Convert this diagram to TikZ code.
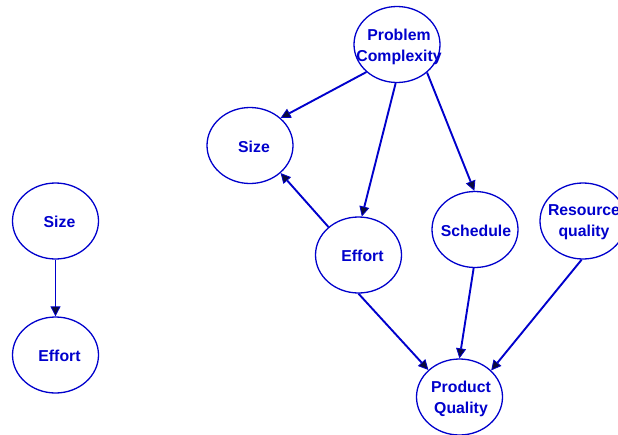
\documentclass[tikz,border=0pt]{standalone}
\usepackage{fontspec}
\setmainfont{Liberation Sans}
\usetikzlibrary{shapes.geometric,arrows.meta}
\definecolor{nblue}{RGB}{0,0,204}
\definecolor{tipc}{RGB}{10,10,60}
\tikzset{
 ell/.style={draw=nblue, line width=1.3pt, ellipse, minimum width=86pt, minimum height=76pt, inner sep=0pt},
 lbl/.style={text=nblue, font=\bfseries\fontsize{15.8}{20.5}\selectfont, align=center, inner sep=0pt},
 edge/.style={draw=nblue, line width=1.9pt, -{Triangle[length=10pt,width=10pt,fill=tipc,line width=0.8pt]}},
 thinedge/.style={edge, line width=1.4pt}
}
\begin{document}
\begin{tikzpicture}[x=1pt,y=-1pt]
\useasboundingbox (0,0) rectangle (618,434);
\node[ell, label={[lbl,xshift=4pt,yshift=-1pt]center:Size}] (lsize) at (55.5,221) {};
\node[ell, label={[lbl,xshift=4pt,yshift=-1pt]center:Effort}] (leffort) at (55.5,355) {};
\node[ell, label={[lbl,xshift=4pt,yshift=-1pt]center:Size}] (size) at (250,145.5) {};
\node[ell, label={[lbl,xshift=4pt,yshift=-1pt]center:Effort}] (effort) at (358.5,255) {};
\node[ell, label={[lbl,xshift=2pt,yshift=-2.5pt]center:Problem\\Complexity}] (pc) at (397,44.5) {};
\node[ell, label={[lbl,xshift=1pt,yshift=-1pt]center:Schedule}] (sched) at (475,229.5) {};
\node[ell, label={[lbl,xshift=1pt,yshift=-1pt]center:Resource\\quality}] (res) at (583,221) {};
\node[ell, label={[lbl,xshift=1.5pt,yshift=-2pt]center:Product\\Quality}] (pq) at (459.5,397) {};
\draw[thinedge] (lsize.south) -- (leffort.north);
\draw[edge] (pc.222.5) -- (size.42.5);
\draw[edge] (pc.268.5) -- (effort.85.6);
\draw[edge] (pc.317.5) -- (sched.91.5);
\draw[edge] (effort.137) -- (size.318.4);
\draw[edge] (effort.270) -- (pq.139.4);
\draw[edge] (sched.268) -- (pq.90);
\draw[edge] (res.268) -- (pq.40);
\end{tikzpicture}
\end{document}
